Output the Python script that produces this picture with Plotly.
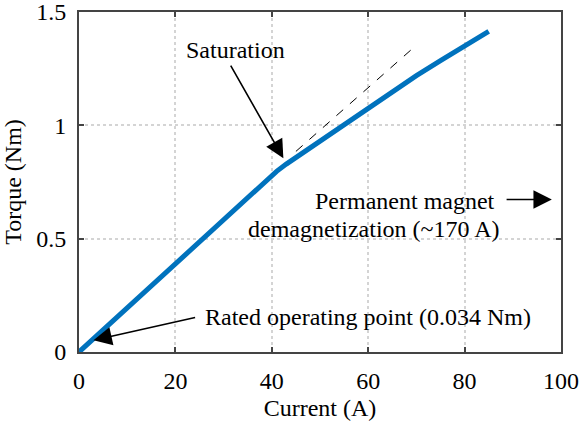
import plotly.graph_objects as go

# Torque vs. phase current
current_a = [0, 10, 20, 30, 38, 41, 43, 45, 50, 55, 60, 65, 70, 75, 80, 85]
torque_nm = [0, 0.195, 0.39, 0.585, 0.74, 0.797, 0.829, 0.858, 0.933, 1.007,
             1.079, 1.150, 1.219, 1.286, 1.351, 1.415]

# Linear (unsaturated) extension
linear_x = [45, 69]
linear_y = [0.885, 1.335]

x_ticks = [0, 20, 40, 60, 80, 100]
y_ticks = [0, 0.5, 1, 1.5]
y_tick_text = ["0", "0.5", "1", "1.5"]

FONT = "Liberation Serif, Times New Roman, serif"
AXIS_COLOR = "#444444"

fig = go.Figure()
fig.add_trace(go.Scatter(x=linear_x, y=linear_y, mode="lines",
                         line=dict(color="black", width=1, dash="dash"),
                         showlegend=False, hoverinfo="skip"))
fig.add_trace(go.Scatter(x=current_a, y=torque_nm, mode="lines",
                         line=dict(color="#0072BD", width=5),
                         showlegend=False))

arrow_style = dict(text="", showarrow=True, arrowhead=2, arrowsize=2.3,
                   arrowwidth=1.6, arrowcolor="black", axref="x", ayref="y",
                   xref="x", yref="y", standoff=0, startstandoff=0)

# Saturation
fig.add_annotation(x=42.4, y=0.855, ax=31.3, ay=1.27, **arrow_style)
fig.add_annotation(x=32.4, y=1.332, text="Saturation", showarrow=False,
                   xanchor="center", yanchor="middle")
# Rated operating point
fig.add_annotation(x=3.0, y=0.052, ax=24.4, ay=0.154, **arrow_style)
fig.add_annotation(x=25.7, y=0.153, text="Rated operating point (0.034 Nm)",
                   showarrow=False, xanchor="left", yanchor="middle")
# Demagnetization limit
fig.add_annotation(x=98.1, y=0.673, ax=88.4, ay=0.673, **arrow_style)
fig.add_annotation(x=86.7, y=0.668, text="Permanent magnet", showarrow=False,
                   xanchor="right", yanchor="middle")
fig.add_annotation(x=87.8, y=0.541, text="demagnetization (~170 A)",
                   showarrow=False, xanchor="right", yanchor="middle")

axis_common = dict(showline=True, linecolor=AXIS_COLOR, linewidth=2,
                   mirror="ticks", ticks="inside", ticklen=5, tickwidth=2,
                   tickcolor=AXIS_COLOR, showgrid=True, gridcolor="#d4d4d4",
                   gridwidth=1.5, griddash="dot", zeroline=False,
                   ticklabeloverflow="allow", automargin=False,
                   tickfont=dict(family=FONT, size=24, color="black"))

fig.update_xaxes(range=[0, 100.0001], tickvals=x_ticks, ticklabelstandoff=6,
                 title=dict(text="Current (A)", standoff=6,
                            font=dict(family=FONT, size=24, color="black")),
                 **axis_common)
fig.update_yaxes(range=[0, 1.500001], tickvals=y_ticks, ticktext=y_tick_text,
                 ticklabelstandoff=6,
                 title=dict(text="Torque (Nm)", standoff=8,
                            font=dict(family=FONT, size=24, color="black")),
                 **axis_common)

fig.update_layout(width=579, height=428,
                  margin=dict(l=79, r=18, t=12, b=76),
                  paper_bgcolor="white", plot_bgcolor="white",
                  font=dict(family=FONT, size=24, color="black"))

fig.write_html("out.html")
